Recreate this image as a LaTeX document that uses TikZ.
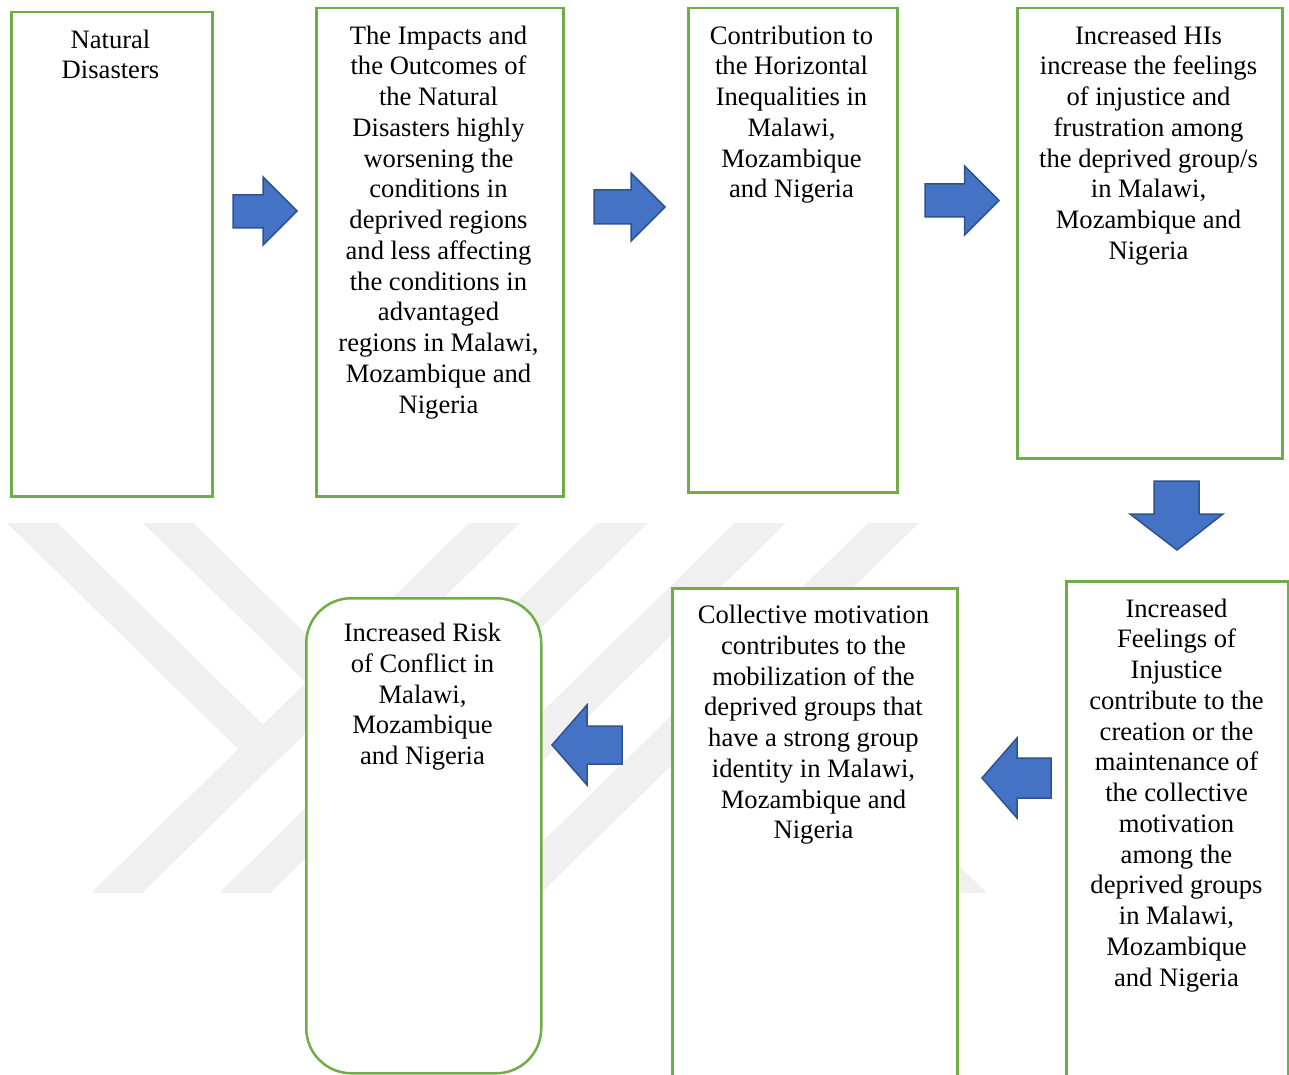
\documentclass[tikz,border=0pt]{standalone}
\usepackage{fontspec}
\setmainfont{Liberation Serif}
\definecolor{boxgreen}{HTML}{70AD47}
\definecolor{arrfill}{HTML}{4472C4}
\definecolor{arredge}{HTML}{2F528F}
\definecolor{wmark}{RGB}{240,240,240}
\begin{document}
\begin{tikzpicture}[x=1pt,y=-1pt,
  box/.style={draw=boxgreen, line width=2.5pt, fill=white, rectangle, anchor=north west, inner sep=0pt},
  txt/.style={anchor=north, align=center, inner sep=0pt, font=\fontsize{26.6}{30.75}\selectfont},
  blockarrow/.style={fill=arrfill, draw=arredge, line width=1.5pt, line join=miter},
  wm/.style={fill=wmark}]
\useasboundingbox (0,0) rectangle (1289,1075);
\clip (0,0) rectangle (1289,1075);
\fill[white] (0,0) rectangle (1289,1075);
% watermark
\fill[wm] (469,523) -- (520,523) -- (142,893) -- (91,893) -- cycle;
\fill[wm] (597,523) -- (648,523) -- (270,893) -- (219,893) -- cycle;
\fill[wm] (735,523) -- (786,523) -- (408,893) -- (357,893) -- cycle;
\fill[wm] (868,523) -- (919,523) -- (541,893) -- (490,893) -- cycle;
\fill[wm] (7,523) -- (57,523) -- (289,750) -- (238,749) -- cycle;
\fill[wm] (143,523) -- (193,523) -- (421,747) -- (370,745) -- cycle;
\fill[wm] (678,640) -- (729,640) -- (987,893) -- (936,893) -- cycle;
% boxes
\node[box, minimum width=201pt, minimum height=484pt] (b1) at (10,11) {};
\node[box, minimum width=247pt, minimum height=488pt] (b2) at (315,7) {};
\node[box, minimum width=209pt, minimum height=484pt] (b3) at (687,7) {};
\node[box, minimum width=265pt, minimum height=450pt] (b4) at (1016,7) {};
\node[box, minimum width=222pt, minimum height=520pt] (b5) at (1065,580) {};
\node[box, minimum width=285pt, minimum height=520pt] (b6) at (671,587) {};
\node[box, minimum width=235pt, minimum height=475pt, rounded corners=45pt] (b7) at (305,597) {};
% texts
\node[txt] (t1) at (110.5,29) {\rule{0pt}{19pt}Natural\\Disasters};
\node[txt] (t2) at (438.5,25) {\rule{0pt}{19pt}The Impacts and\\the Outcomes of\\the Natural\\Disasters highly\\worsening the\\conditions in\\deprived regions\\and less affecting\\the conditions in\\advantaged\\regions in Malawi,\\Mozambique and\\Nigeria};
\node[txt] (t3) at (791.5,25) {\rule{0pt}{19pt}Contribution to\\the Horizontal\\Inequalities in\\Malawi,\\Mozambique\\and Nigeria};
\node[txt] (t4) at (1148.5,25) {\rule{0pt}{19pt}Increased HIs\\increase the feelings\\of injustice and\\frustration among\\the deprived group/s\\in Malawi,\\Mozambique and\\Nigeria};
\node[txt] (t5) at (1176.5,598) {\rule{0pt}{19pt}Increased\\Feelings of\\Injustice\\contribute to the\\creation or the\\maintenance of\\the collective\\motivation\\among the\\deprived groups\\in Malawi,\\Mozambique\\and Nigeria};
\node[txt] (t6) at (813.5,604.5) {\rule{0pt}{19pt}Collective motivation\\contributes to the\\mobilization of the\\deprived groups that\\have a strong group\\identity in Malawi,\\Mozambique and\\Nigeria};
\node[txt] (t7) at (422.5,622.5) {\rule{0pt}{19pt}Increased Risk\\of Conflict in\\Malawi,\\Mozambique\\and Nigeria};
% block arrows
\draw[blockarrow] (233,195) -- (263,195) -- (263,177) -- (297,211) -- (263,245) -- (263,228) -- (233,228) -- cycle;
\draw[blockarrow] (594,190) -- (631,190) -- (631,173) -- (665,207) -- (631,241) -- (631,224) -- (594,224) -- cycle;
\draw[blockarrow] (925,184) -- (964.5,184) -- (964.5,166) -- (999,200.5) -- (964.5,235) -- (964.5,217) -- (925,217) -- cycle;
\draw[blockarrow] (1154,481) -- (1199,481) -- (1199,514) -- (1223,514) -- (1177,550) -- (1130,514) -- (1154,514) -- cycle;
\draw[blockarrow] (1051,758) -- (1017,758) -- (1017,738) -- (982,778) -- (1017,818) -- (1017,798) -- (1051,798) -- cycle;
\draw[blockarrow] (622,726) -- (587,726) -- (587,705) -- (552,745) -- (587,785) -- (587,764) -- (622,764) -- cycle;
\end{tikzpicture}
\end{document}
